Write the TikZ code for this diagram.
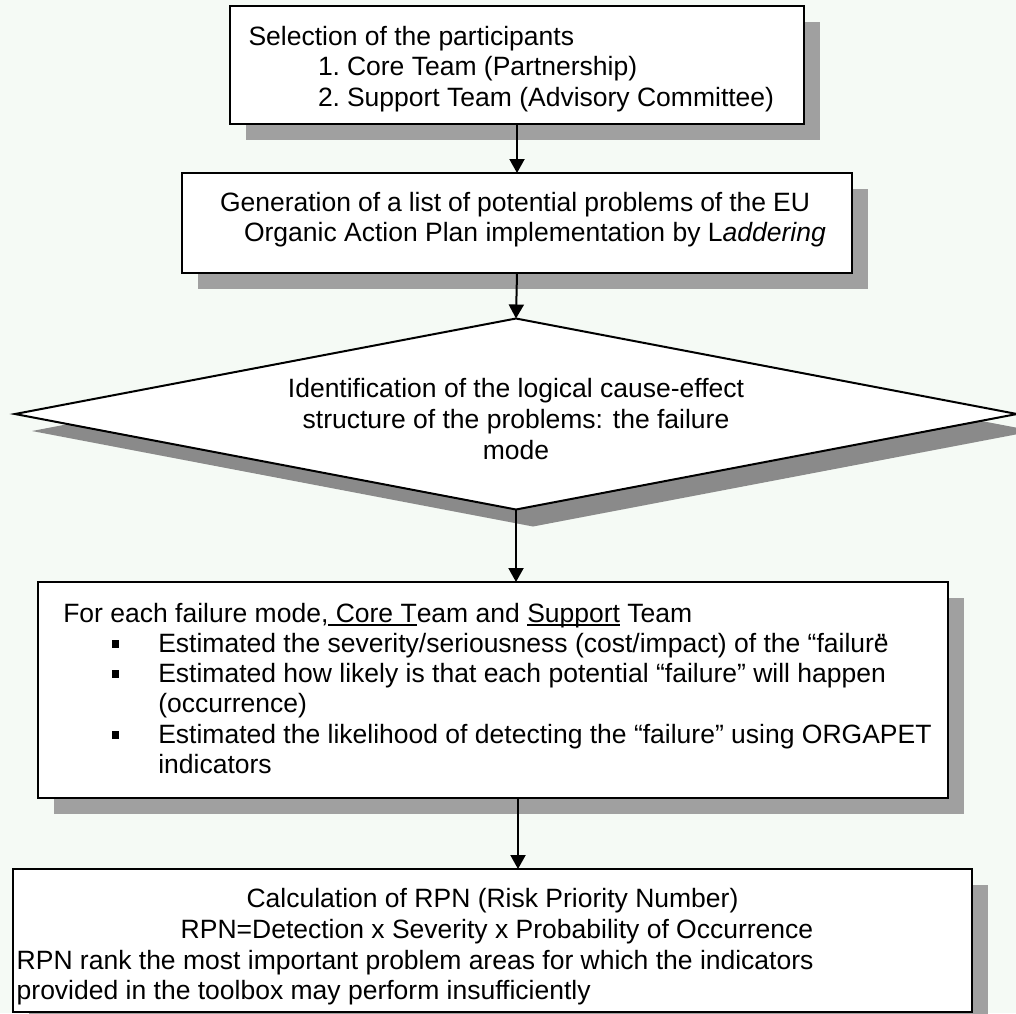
\documentclass[tikz,border=0pt]{standalone}
\usepackage{fontspec}
\setmainfont{Liberation Sans}
\usetikzlibrary{shapes.geometric,shadows,arrows.meta}
\definecolor{bgc}{RGB}{245,250,245}
\definecolor{boxshadow}{RGB}{160,160,160}
\definecolor{diashadow}{RGB}{138,138,138}
\newcommand\fsz{\fontsize{26.5}{30}\selectfont}
\newcommand\blt{\rule[4.5pt]{7.5pt}{7.5pt}}
\newcommand\myul[1]{\setbox0\hbox{#1}\rlap{\rule[-3.5pt]{\wd0}{1.6pt}}\box0\relax}
\begin{document}
\begin{tikzpicture}[x=1pt,y=-1pt,
  box/.style={draw=black,line width=2pt,fill=white,inner sep=0pt,outer sep=0pt,
    drop shadow={shadow xshift=16pt,shadow yshift=-16pt,fill=boxshadow,opacity=1}},
  dia/.style={diamond,draw=black,line width=2pt,fill=white,inner sep=0pt,outer sep=0pt,
    drop shadow={shadow xshift=17pt,shadow yshift=-17pt,fill=diashadow,opacity=1}},
  txt/.style={inner sep=0pt,outer sep=0pt,font=\fsz,text=black},
  arr/.style={line width=2pt,-{Triangle[length=14pt,width=15pt]}}]
\useasboundingbox (0,0) rectangle (1016,1013);
\clip (0,0) rectangle (1016,1013);
\fill[bgc] (0,0) rectangle (1016,1013);

% boxes
\node[box,minimum width=574pt,minimum height=118pt] (b1) at (517,65) {};
\node[box,minimum width=670pt,minimum height=100pt] (b2) at (517,223) {};
\node[dia,minimum width=1002pt,minimum height=191pt] (d3) at (516,414) {};
\node[box,minimum width=910pt,minimum height=216pt] (b4) at (493,690) {};
\node[box,minimum width=959pt,minimum height=143pt] (b5) at (492.5,940.5) {};

% connectors
\draw[arr] (b1.south) -- (b2.north);
\draw[arr] (b2.south) -- (d3.north);
\draw[arr] (d3.south) -- (d3.south |- b4.north);
\coordinate (a4) at ([xshift=25pt]b4.south);
\draw[arr] (a4) -- (a4 |- b5.north);

% box 1 text
\node[txt,anchor=base west] (t1a) at (248.5,45) {Selection of the participants};
\node[txt,anchor=base west] (t1b) at (318,75.5) {1.};
\node[txt,anchor=base west] (t1c) at (347,75.5) {Core Team (Partnership)};
\node[txt,anchor=base west] (t1d) at (318,106) {2.};
\node[txt,anchor=base west] (t1e) at (347,106) {Support Team (Advisory Committee)};

% box 2 text
\node[txt,anchor=base west] (t2a) at (220,211) {\makebox[590pt][s]{Generation of a list of potential problems of the EU}};
\node[txt,anchor=base west] (t2b) at (244,241) {Organic Action Plan implementation by L\textit{addering}};

% diamond text
\node[txt,anchor=base] (t3a) at (516,397) {Identification of the logical cause-effect};
\node[txt,anchor=base] (t3b) at (516,428) {structure of the problems: the failure};
\node[txt,anchor=base] (t3c) at (516,459) {mode};

% box 4 text
\node[txt,anchor=base west] (t4a) at (63.3,622) {For each failure mode,\myul{\ Core T}eam and \myul{Support} Team};
\node[txt,anchor=base west] (t4b1) at (111.5,652) {\blt};
\node[txt,anchor=base west] (t4b) at (158.3,652) {Estimated the severity/seriousness (cost/impact) of the “failure\kern-0.45em”};
\node[txt,anchor=base west] (t4c1) at (111.5,682) {\blt};
\node[txt,anchor=base west] (t4c) at (158.3,682) {Estimated how likely is that each potential “failure” will happen};
\node[txt,anchor=base west] (t4d) at (158.3,712) {(occurrence)};
\node[txt,anchor=base west] (t4e1) at (111.5,743) {\blt};
\node[txt,anchor=base west] (t4e) at (158.3,743) {Estimated the likelihood of detecting the “failure” using ORGAPET};
\node[txt,anchor=base west] (t4f) at (158.3,773) {indicators};

% box 5 text
\node[txt,anchor=base] (t5a) at (492.5,907) {Calculation of RPN (Risk Priority Number)};
\node[txt,anchor=base] (t5b) at (497,938) {RPN=Detection x Severity x Probability of Occurrence};
\node[txt,anchor=base west] (t5c) at (16.7,969) {RPN rank the most important problem areas for which the indicators};
\node[txt,anchor=base west] (t5d) at (16.7,999) {provided in the toolbox may perform insufficiently};
\end{tikzpicture}
\end{document}
